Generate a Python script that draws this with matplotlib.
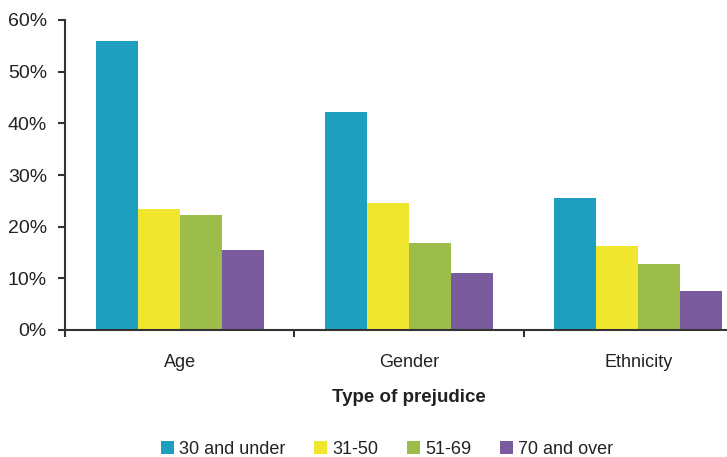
import matplotlib
matplotlib.use("Agg")
import matplotlib.pyplot as plt
import numpy as np
from matplotlib.patches import Patch
from matplotlib.ticker import FuncFormatter, MultipleLocator

plt.rcParams['font.family'] = ['Liberation Sans', 'DejaVu Sans']

categories = ["Age", "Gender", "Ethnicity"]
series_names = ["30 and under", "31-50", "51-69", "70 and over"]
under_30 = [55.9, 42.2, 25.5]
age_31_50 = [23.4, 24.6, 16.2]
age_51_69 = [22.2, 16.8, 12.8]
over_70 = [15.5, 11.0, 7.5]
series_values = [under_30, age_31_50, age_51_69, over_70]
colors = ["#1f9fbf", "#f0e62e", "#9cbd4a", "#7a5c9e"]

fig = plt.figure(figsize=(7.27, 4.57), dpi=100)
ax = fig.add_axes([65 / 727, 1 - 330 / 457, 688 / 727, 310 / 457])

x = np.arange(len(categories))
bar_w = 0.183
for i, (vals, col) in enumerate(zip(series_values, colors)):
    ax.bar(x + (i - 1.5) * bar_w, vals, width=bar_w, color=col, linewidth=0)

ax.set_xlim(-0.5, len(categories) - 0.5)
ax.set_ylim(0, 60)
ax.yaxis.set_major_locator(MultipleLocator(10))
ax.yaxis.set_major_formatter(FuncFormatter(lambda v, p: f"{v:.0f}%"))

axis_col = "#333333"
text_col = "#222222"
for side in ("top", "right"):
    ax.spines[side].set_visible(False)
for side in ("left", "bottom"):
    ax.spines[side].set_color(axis_col)
    ax.spines[side].set_linewidth(1.5)

ax.set_xticks(np.arange(-0.5, len(categories), 1.0))
ax.set_xticklabels([])
ax.set_xticks(x, minor=True)
ax.set_xticklabels(categories, minor=True)
ax.tick_params(axis="x", which="major", length=5, width=1.5, color=axis_col, direction="out")
ax.tick_params(axis="x", which="minor", length=0, pad=17, labelsize=13, labelcolor=text_col)
ax.tick_params(axis="y", length=5, width=1.5, color=axis_col, labelsize=14,
               labelcolor=text_col, pad=8)

fig.text(409 / 727, 1 - 397 / 457, "Type of prejudice", ha="center", va="center",
         fontsize=13.5, fontweight="bold", color=text_col)

handles = [Patch(facecolor=c, edgecolor="none") for c in colors]
fig.legend(handles, series_names, loc="center", bbox_to_anchor=(387 / 727, 1 - 449 / 457),
           ncol=4, frameon=False, fontsize=13, handlelength=0.72, handleheight=0.72,
           handletextpad=0.28, columnspacing=1.6, labelcolor=text_col)

fig.savefig("out.png", dpi=100)
